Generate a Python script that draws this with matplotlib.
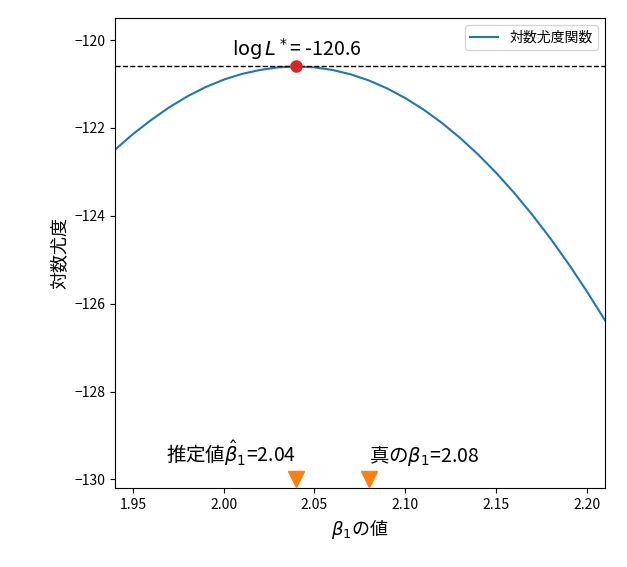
import matplotlib
matplotlib.use("Agg")
import matplotlib.pyplot as plt

plt.rcParams['font.family'] = ['Noto Sans CJK JP', 'DejaVu Sans']
plt.rcParams['axes.unicode_minus'] = True

beta = [1.94, 1.95, 1.96, 1.97, 1.98, 1.99, 2.00, 2.01, 2.02, 2.03, 2.04, 2.05, 2.06, 2.07,
        2.08, 2.09, 2.10, 2.11, 2.12, 2.13, 2.14, 2.15, 2.16, 2.17, 2.18, 2.19, 2.20, 2.21]
loglik = [-122.50, -122.14, -121.82, -121.53, -121.28, -121.07, -120.90, -120.77, -120.68,
          -120.62, -120.60, -120.62, -120.68, -120.78, -120.92, -121.10, -121.32, -121.58,
          -121.88, -122.22, -122.60, -123.02, -123.48, -123.98, -124.52, -125.10, -125.72, -126.38]
beta_hat = 2.04
beta_true = 2.08
max_ll = -120.6

fig, ax = plt.subplots(figsize=(6.27, 5.67), dpi=100)
ax.plot(beta, loglik, color='#1f77b4', label='対数尤度関数')
ax.axhline(max_ll, color='black', linestyle='--', linewidth=1)
ax.plot(beta_hat, max_ll, 'o', color='#d62728', markersize=8)
ax.text(beta_hat, max_ll + 0.1, r'$\log L^*$= %.1f' % max_ll, ha='center', va='bottom', fontsize=14)
ax.plot([beta_hat, beta_true], [-130, -130], 'v', color='#ff7f0e', markersize=12, linestyle='none')
ax.text(beta_hat, -129.75, r'推定値$\hat{\beta}_1$=%.2f' % beta_hat, ha='right', va='bottom', fontsize=14)
ax.text(beta_true, -129.75, r'真の$\beta_1$=%.2f' % beta_true, ha='left', va='bottom', fontsize=14)
ax.set_xlim(1.94, 2.21)
ax.set_ylim(-130.2, -119.5)
ax.set_xlabel(r'$\beta_1$の値', fontsize=13)
ax.set_ylabel('対数尤度', fontsize=13)
ax.legend(loc='upper right')
plt.subplots_adjust(left=0.183, right=0.965, top=0.968, bottom=0.139)
plt.savefig('out.png')
